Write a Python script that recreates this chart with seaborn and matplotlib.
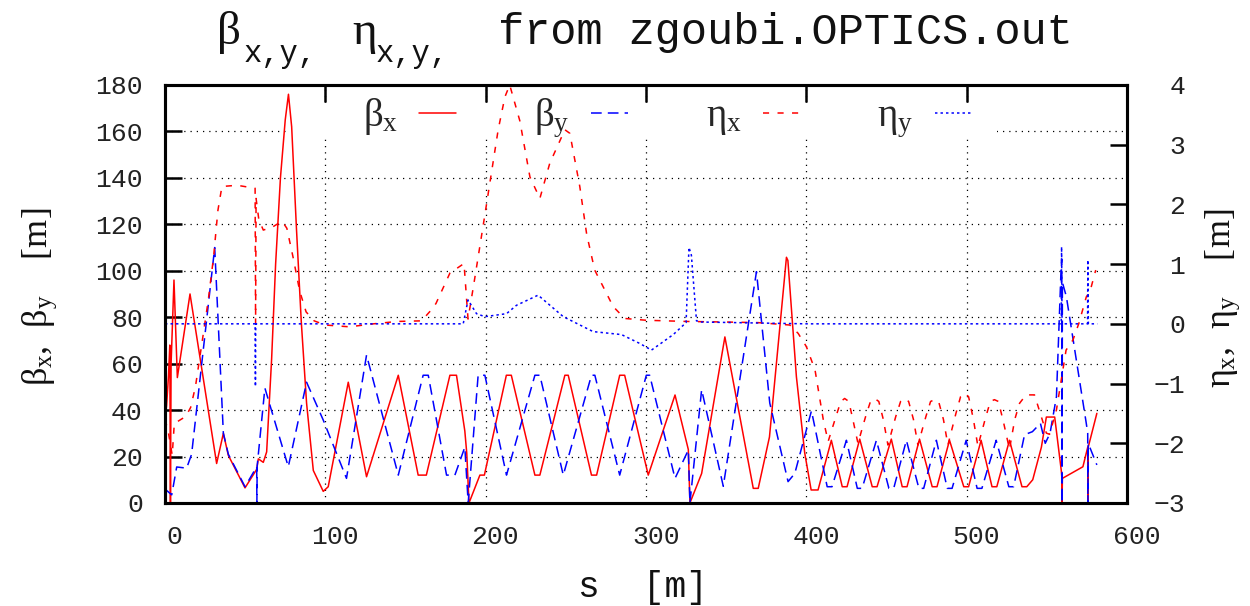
import seaborn as sns
import matplotlib
matplotlib.use("Agg")
import matplotlib.pyplot as plt
from matplotlib.patches import Rectangle
from matplotlib.transforms import ScaledTranslation

# optics functions
s_betx = [0, 1.0, 2.2, 3.0, 3.4, 3.8, 5.6, 7.7, 15.6, 32.2, 36.4, 39.5, 49.9, 57.2, 58.2, 61.3,
          63.4, 66.5, 69.0, 72.0, 75.0, 77.0, 79.0, 82.0, 85.0, 88.3, 92.5, 98.7, 101.8, 114.3,
          125.7, 145.5, 157.9, 163.0, 177.7, 181.8, 187.0, 188.2, 189.6, 196.4, 199.2, 212.9,
          216.0, 230.7, 233.8, 249.4, 251.5, 266.0, 269.2, 283.6, 286.7, 301.4, 318.1, 326.4,
          327.4, 334.7, 349.2, 366.9, 370.0, 377.0, 387.6, 388.5, 393.8, 399.0, 403.0, 407.3,
          415.6, 422.4, 425.4, 433.3, 441.1, 444.1, 453.0, 459.8, 462.8, 470.6, 478.5, 481.5,
          489.3, 498.2, 501.2, 509.0, 515.8, 518.8, 526.7, 534.5, 537.5, 541.2, 546.6, 549.7,
          554.9, 559.0, 559.4, 559.5, 559.7, 572.5, 575.5, 575.6, 575.8, 581.2]
betx = [35, 42, 55, 68, 0, 60, 96, 54, 90, 17, 30, 20.5, 6.5, 14.5, 19, 17.5,
        22, 62, 103, 140, 165, 176, 162, 118, 78, 43, 14, 5, 7, 52,
        11.3, 55, 12, 12, 55, 55, 31, 21.5, 0, 12, 12, 55,
        55, 12, 12, 55, 55, 12, 12, 55, 55, 12, 46.5, 23,
        0, 12.7, 71.5, 6.3, 6.3, 28.4, 105.8, 104.4, 54.4, 21.5, 5.6, 5.6,
        27, 7, 7, 27.5, 7, 7, 27.5, 7, 7, 27.5, 7, 7,
        27, 7, 7, 27, 7, 7, 27, 7, 7, 10, 24, 37,
        37, 14, 10.5, 0, 10.6, 15.6, 24, 0, 24, 38.6]

s_bety = [0, 4.2, 7.3, 13.5, 16.6, 31.0, 36.4, 39.5, 49.9, 57.2, 57.3, 57.5, 62.3, 65.5, 76.9,
          88.3, 98.7, 113.2, 125.7, 145.5, 161.0, 164.2, 175.6, 180.8, 187.0, 189.1, 195.3,
          199.5, 213.0, 230.7, 233.8, 248.4, 266.0, 268.1, 283.6, 300.2, 302.3, 318.1, 326.4,
          327.4, 334.7, 348.2, 368.9, 377.2, 388.6, 392.8, 403.2, 413.0, 416.0, 425.0, 431.8,
          434.8, 443.7, 451.5, 454.5, 462.4, 470.2, 473.2, 481.1, 487.9, 490.9, 499.7, 506.5,
          509.5, 518.4, 526.3, 529.3, 536.1, 541.0, 546.0, 549.0, 552.0, 556.0, 559.0, 559.3,
          559.5, 559.7, 562.2, 574.6, 575.5, 575.6, 575.8, 581.2]
bety = [6, 3.5, 15.5, 15, 21, 110, 30, 21, 7, 15.6, 0, 16, 49.5, 42, 15.6,
        52, 35.7, 10.6, 63.7, 12, 55, 55, 12, 12, 24, 0, 55,
        55, 12, 55, 55, 12, 55, 55, 12, 55, 55, 10.6, 22.8,
        0, 48.8, 7.2, 99.6, 43, 9.2, 12.7, 39.7, 7, 7, 27, 6.3,
        6.3, 27, 6.3, 6.3, 27, 6.3, 6.3, 27, 6.3, 6.3, 27, 6.3,
        6.3, 27, 7, 7, 29.4, 30.7, 34.3, 25.7, 30, 45.8, 103, 105,
        0, 95, 88.8, 34.3, 30, 0, 25.7, 16.4]

s_etax = [0, 2.0, 4.5, 5.8, 13.0, 16.0, 19.0, 23.0, 27.0, 30.3, 33.0, 35.5, 45.0, 56.2, 56.5,
          56.8, 58.5, 61.3, 67.0, 73.0, 76.0, 80.0, 84.0, 88.0, 93.0, 100.0, 115.0, 130.0,
          145.0, 160.0, 165.0, 169.0, 177.7, 186.5, 189.0, 192.7, 199.0, 207.8, 212.0, 215.0,
          221.3, 227.6, 233.8, 240.0, 249.4, 252.5, 258.7, 263.0, 268.0, 273.3, 279.5, 286.7,
          300.0, 325.0, 350.0, 370.0, 389.7, 394.9, 400.0, 405.4, 410.6, 413.6, 418.5, 421.5,
          423.9, 426.5, 429.0, 432.2, 437.0, 440.0, 442.6, 445.2, 448.0, 450.9, 455.8, 458.8,
          461.3, 463.8, 466.8, 469.6, 474.6, 477.5, 480.0, 482.5, 485.5, 488.3, 493.3, 496.2,
          498.7, 501.2, 504.2, 507.0, 512.0, 514.8, 517.3, 519.8, 523.0, 526.7, 530.0, 533.0,
          537.0, 542.3, 546.5, 549.7, 551.7, 556.0, 559.0, 562.0, 566.3, 570.0, 574.6, 577.0,
          580.5]
etax = [-1.6, -1.8, -2.2, -1.67, -1.55, -1.4, -1.05, -0.33, 0.4, 1.12, 1.9, 2.30, 2.32, 2.27, 0.0,
        2.1, 1.75, 1.57, 1.62, 1.72, 1.6, 1.1, 0.55, 0.2, 0.05, -0.02, -0.05, 0.0,
        0.04, 0.05, 0.2, 0.34, 0.85, 1.01, 0.08, 0.68, 1.74, 3.25, 3.8, 4.0,
        3.4, 2.46, 2.10, 2.69, 3.25, 3.19, 2.30, 1.5, 0.90, 0.62, 0.29, 0.09,
        0.06, 0.04, 0.03, 0.02, -0.02, -0.16, -0.38, -0.77, -1.61, -1.97, -1.55, -1.3,
        -1.25, -1.3, -1.6, -2.0, -1.55, -1.3, -1.25, -1.3, -1.6, -2.03, -1.55, -1.3,
        -1.25, -1.3, -1.6, -2.03, -1.55, -1.3, -1.27, -1.3, -1.6, -2.03, -1.5, -1.22,
        -1.16, -1.22, -1.6, -2.05, -1.55, -1.3, -1.27, -1.3, -1.65, -2.1, -1.6, -1.33,
        -1.19, -1.19, -1.55, -1.83, -1.85, -1.44, -0.94, -0.44, -0.27, 0.01, 0.45, 0.55,
        0.9]

s_etay = [0, 56.2, 56.4, 56.6, 186.0, 189.0, 194.3, 199.5, 213.0, 219.2, 232.7, 248.4, 267.0,
          284.7, 296.2, 303.4, 317.0, 325.0, 326.8, 328.3, 331.5, 334.7, 400.0, 559.0, 559.2,
          559.5, 575.4, 575.6, 575.9, 581.5]
etay = [0.0, 0.0, -1.05, 0.0, 0.0, 0.40, 0.17, 0.12, 0.17, 0.31, 0.48, 0.12, -0.13,
        -0.18, -0.33, -0.44, -0.18, 0.02, 1.28, 1.15, 0.05, 0.03, 0.0, 0.0, 1.29,
        0.0, 0.0, 1.07, 0.0, 0.0]

x_ticks = [0, 100, 200, 300, 400, 500, 600]
y_ticks = [0, 20, 40, 60, 80, 100, 120, 140, 160, 180]
y2_ticks = [-3, -2, -1, 0, 1, 2, 3, 4]

sns.set_style("white")
plt.rcParams['font.family'] = ['Liberation Mono', 'DejaVu Sans']
plt.rcParams['mathtext.fontset'] = 'custom'
plt.rcParams['mathtext.rm'] = 'Liberation Serif'
plt.rcParams['mathtext.it'] = 'Liberation Serif'
plt.rcParams['mathtext.bf'] = 'Liberation Serif:bold'

fig = plt.figure(figsize=(12.5, 6.06), dpi=100)
ax = fig.add_axes([0.132, 0.17, 0.7696, 0.6898])
ax2 = ax.twinx()

lw = 1.1
sns.lineplot(x=s_betx, y=betx, ax=ax, color='red', linewidth=lw, sort=False,
             estimator=None, legend=False, label=r'$\beta_x$')
sns.lineplot(x=s_bety, y=bety, ax=ax, color='blue', linewidth=lw, sort=False,
             estimator=None, legend=False, label=r'$\beta_y$', linestyle=(0, (7, 4)))
sns.lineplot(x=s_etax, y=etax, ax=ax2, color='red', linewidth=lw, sort=False,
             estimator=None, legend=False, label=r'$\eta_x$', linestyle=(0, (4, 5.5)))
sns.lineplot(x=s_etay, y=etay, ax=ax2, color='blue', linewidth=lw, sort=False,
             estimator=None, legend=False, label=r'$\eta_y$', linestyle=(0, (1.6, 2)))

ax.set_xlim(0, 600)
ax.set_ylim(0, 180)
ax2.set_ylim(-3, 4)
ax.set_xticks(x_ticks)
ax.set_yticks(y_ticks)
ax2.set_yticks(y2_ticks)
ax.set_xlabel("")
ax.set_ylabel("")
ax2.set_ylabel("")

# gnuplot-like grid, hidden behind the key box
ax.set_axisbelow(True)
ax.grid(True, color='black', linestyle=(0, (1, 4)), linewidth=0.9)
ax2.grid(False)
ax.add_patch(Rectangle((0.130, 0.876), 0.735, 0.08, transform=ax.transAxes,
                       facecolor='white', edgecolor='none', zorder=1))

ax.tick_params(axis='both', direction='in', length=12, width=1.8, labelsize=19,
               top=True, right=False, colors='black', labelcolor='#222222')
ax.tick_params(axis='x', pad=16)
ax.tick_params(axis='y', pad=16)
ax2.tick_params(axis='y', direction='in', length=12, width=1.8, labelsize=19,
                pad=42, colors='black', labelcolor='#222222')
for lab in ax2.get_yticklabels():
    lab.set_ha('right')
shift = ScaledTranslation(7 / 72, 0, fig.dpi_scale_trans)
for lab in ax.get_xticklabels():
    lab.set_transform(lab.get_transform() + shift)

for a in (ax, ax2):
    for sp in a.spines.values():
        sp.set_linewidth(2.2)
        sp.set_color('black')

h1, l1 = ax.get_legend_handles_labels()
h2, l2 = ax2.get_legend_handles_labels()
ax2.legend(h1 + h2, l1 + l2, loc='center', bbox_to_anchor=(0.522, 0.921), ncol=4,
           frameon=False, markerfirst=False, handlelength=0.95, handletextpad=0.55,
           columnspacing=2.0, fontsize=28)

# title pieces, gnuplot enhanced-text style (big greek, mono subscripts)
tc = '#111111'
fig.text(0.1728, 0.927, r'$\beta$', fontsize=34, ha='left', va='baseline', color=tc)
fig.text(0.195, 0.897, 'x,y,', fontsize=22, ha='left', va='baseline', color=tc)
fig.text(0.2816, 0.927, r'$\eta$', fontsize=34, ha='left', va='baseline', color=tc)
fig.text(0.3008, 0.897, 'x,y,', fontsize=22, ha='left', va='baseline', color=tc)
fig.text(0.398, 0.927, 'from zgoubi.OPTICS.out', fontsize=31.4, ha='left',
         va='baseline', color=tc)

fig.text(0.5144, 0.03, 's  [m]', fontsize=26, ha='center', va='center', color=tc)
fig.text(0.032, 0.51, r'$\beta_x$,  $\beta_y$    [m]', fontsize=26, rotation=90,
         ha='center', va='center', family='Liberation Serif', color=tc)
fig.text(0.978, 0.507, r'$\eta_x$,  $\eta_y$    [m]', fontsize=26, rotation=90,
         ha='center', va='center', family='Liberation Serif', color=tc)

fig.savefig('out.png', dpi=100)
